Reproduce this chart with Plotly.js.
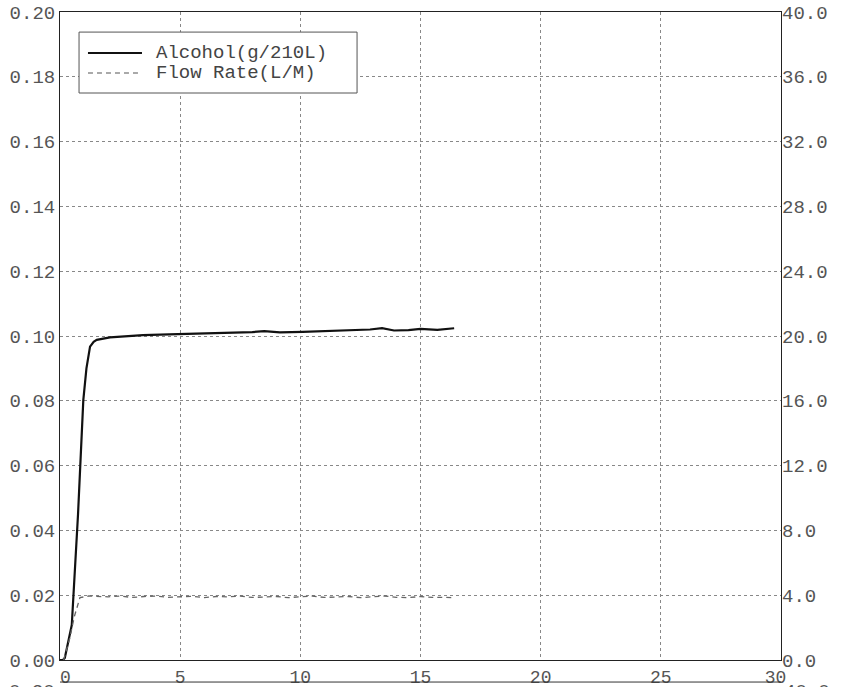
<!DOCTYPE html>
<html>
<head>
<meta charset="utf-8">
<script src="https://cdn.plot.ly/plotly-3.0.1.min.js"></script>
<style>
html,body{margin:0;padding:0;background:#fff;}
#chart{width:849px;height:687px;}
</style>
</head>
<body>
<div id="chart"></div>
<script>
// Time (s)
const alcoholTime = [0, 0.12, 0.2, 0.49, 0.75, 0.97, 1.1, 1.25, 1.4, 1.53, 2.08, 3.45, 4.9, 6.2, 7.2, 8.0, 8.5, 9.15, 10.1, 11.2, 12.2, 12.9, 13.4, 13.9, 14.5, 15.0, 15.7, 16.4];
const alcoholValues = [0, 0, 0.0006, 0.0108, 0.045, 0.0802, 0.09, 0.0967, 0.0982, 0.0988, 0.0996, 0.1003, 0.1006, 0.1008, 0.1009, 0.1012, 0.1015, 0.1011, 0.1013, 0.1016, 0.1019, 0.1020, 0.1024, 0.1017, 0.1018, 0.1022, 0.1019, 0.1024];

const flowTime = [0.15, 0.4, 0.6, 0.83, 1.2, 1.6, 2.0, 2.5, 3.0, 3.5, 4.0, 4.5, 5.0, 5.5, 6.0, 6.5, 7.0, 7.5, 8.0, 8.5, 9.0, 9.5, 10.0, 10.5, 11.0, 11.5, 12.0, 12.5, 13.0, 13.5, 14.0, 14.5, 15.0, 15.5, 16.0, 16.3];
const flowValues = [0, 1.3, 2.7, 3.85, 3.95, 3.93, 3.9, 3.95, 3.86, 3.92, 3.95, 3.87, 3.9, 3.93, 3.85, 3.92, 3.9, 3.95, 3.86, 3.9, 3.92, 3.85, 3.9, 3.95, 3.86, 3.9, 3.92, 3.85, 3.9, 3.95, 3.87, 3.85, 3.92, 3.86, 3.87, 3.85];

const seriesNames = ['Alcohol(g/210L)', 'Flow Rate(L/M)'];

const xTicks = [0, 5, 10, 15, 20, 25, 30];
const xTickLabels = ['\u00a00', '5', '10', '15', '20', '25', '30\u00a0'];
const leftTicks = [0, 0.02, 0.04, 0.06, 0.08, 0.10, 0.12, 0.14, 0.16, 0.18, 0.20];
const rightTicks = [0, 4, 8, 12, 16, 20, 24, 28, 32, 36, 40];

const mono = "Liberation Mono, DejaVu Sans Mono, monospace";
const yTickFont = {family: mono, size: 19, color: '#555'};
const xTickFont = {family: mono, size: 18, color: '#555'};
const legendFont = {family: mono, size: 19, color: '#444'};

const alcoholLine = {color: '#111', width: 2.2};
const flowLine = {color: '#666', width: 1.3, dash: '5px,4px'};

const traces = [
  {x: alcoholTime, y: alcoholValues, type: 'scatter', mode: 'lines',
   name: seriesNames[0], line: alcoholLine, yaxis: 'y'},
  {x: flowTime, y: flowValues, type: 'scatter', mode: 'lines',
   name: seriesNames[1], line: flowLine, yaxis: 'y2'}
];

// legend box drawn in paper coordinates
const lg = {x0: 0.0264, x1: 0.412, y0: 0.875, y1: 0.969, lineX0: 0.0388, lineX1: 0.1137, textX: 0.131, rows: [0.9367, 0.9059]};

const layout = {
  width: 849, height: 687,
  margin: {l: 60, r: 68, t: 12, b: 27},
  paper_bgcolor: '#fff', plot_bgcolor: '#fff',
  showlegend: false,
  xaxis: {
    range: [0, 30], tickvals: xTicks, ticktext: xTickLabels,
    showgrid: true, gridcolor: '#888', griddash: 'dot', gridwidth: 1,
    showline: true, linecolor: '#222', linewidth: 1, mirror: true,
    zeroline: false, ticks: '', tickfont: xTickFont
  },
  yaxis: {
    range: [0, 0.2], tickvals: leftTicks, ticktext: leftTicks.map(v => v.toFixed(2)),
    showgrid: true, gridcolor: '#888', griddash: 'dot', gridwidth: 1,
    showline: true, linecolor: '#222', linewidth: 1, mirror: true,
    zeroline: false, ticks: '', tickfont: yTickFont
  },
  yaxis2: {
    range: [0, 40], overlaying: 'y', side: 'right',
    tickvals: rightTicks, ticktext: rightTicks.map(v => v.toFixed(1)),
    showgrid: false, showline: false, zeroline: false, ticks: '', tickfont: yTickFont
  },
  shapes: [
    {type: 'rect', xref: 'paper', yref: 'paper', x0: lg.x0, x1: lg.x1, y0: lg.y0, y1: lg.y1,
     fillcolor: '#fff', line: {color: '#555', width: 1}, layer: 'above'},
    {type: 'line', xref: 'paper', yref: 'paper', x0: lg.lineX0, x1: lg.lineX1, y0: lg.rows[0], y1: lg.rows[0],
     line: alcoholLine, layer: 'above'},
    {type: 'line', xref: 'paper', yref: 'paper', x0: lg.lineX0, x1: lg.lineX1, y0: lg.rows[1], y1: lg.rows[1],
     line: {color: '#555', width: 1.2, dash: '5px,4px'}, layer: 'above'},
    {type: 'line', xref: 'paper', yref: 'paper', x0: 0, x1: 1, y0: -0.034, y1: -0.034,
     line: {color: '#333', width: 1}, layer: 'above'}
  ],
  annotations: [
    {xref: 'paper', yref: 'paper', x: lg.textX, y: lg.rows[0], xanchor: 'left', yanchor: 'middle',
     text: seriesNames[0], showarrow: false, font: legendFont},
    {xref: 'paper', yref: 'paper', x: lg.textX, y: lg.rows[1], xanchor: 'left', yanchor: 'middle',
     text: seriesNames[1], showarrow: false, font: legendFont},
    {xref: 'paper', yref: 'paper', x: 0, y: -0.029, xanchor: 'right', yanchor: 'top', xshift: -3,
     text: '0.20', showarrow: false, font: yTickFont},
    {xref: 'paper', yref: 'paper', x: 1, y: -0.029, xanchor: 'left', yanchor: 'top', xshift: 1,
     text: '40.0', showarrow: false, font: yTickFont}
  ]
};

Plotly.newPlot('chart', traces, layout, {displayModeBar: false, staticPlot: true});
</script>
</body>
</html>
